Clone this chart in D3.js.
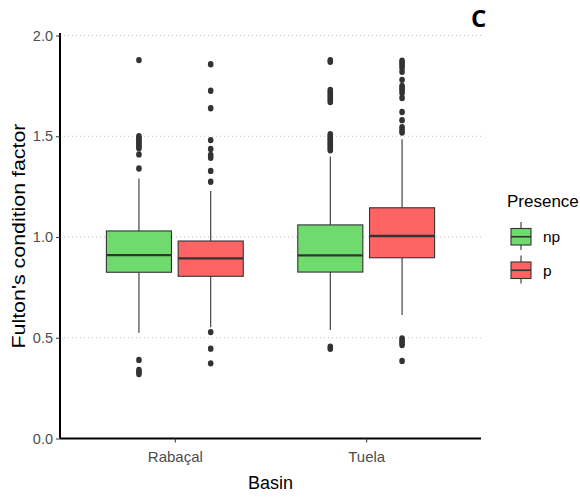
<!DOCTYPE html>
<html>
<head>
<meta charset="utf-8">
<script src="https://cdn.jsdelivr.net/npm/d3@7"></script>
<style>
  body { margin: 0; background: #fff; }
  text { font-family: "Liberation Sans", Arial, sans-serif; }
</style>
</head>
<body>
<div id="chart"></div>
<script>
// data
const basins = ["Rabaçal", "Tuela"]
const presence = ["np", "p"]
const groups = [["Rabaçal", "np"], ["Rabaçal", "p"], ["Tuela", "np"], ["Tuela", "p"]]
const q1 = [0.825, 0.805, 0.826, 0.897]
const median = [0.91, 0.894, 0.909, 1.005]
const q3 = [1.03, 0.98, 1.06, 1.145]
const whiskerLow = [0.525, 0.552, 0.538, 0.613]
const whiskerHigh = [1.29, 1.228, 1.40, 1.485]
const outliers = [
  [1.878, 1.50, 1.49, 1.48, 1.47, 1.46, 1.45, 1.44, 1.41, 1.34, 0.39, 0.34, 0.33, 0.32],
  [1.857, 1.726, 1.639, 1.481, 1.437, 1.407, 1.393, 1.328, 1.274, 0.528, 0.446, 0.373],
  [1.878, 1.87, 1.73, 1.72, 1.71, 1.70, 1.69, 1.68, 1.67, 1.51, 1.50, 1.49, 1.48, 1.47, 1.46, 1.45, 1.44, 1.43, 0.455, 0.445],
  [1.875, 1.865, 1.853, 1.84, 1.82, 1.78, 1.75, 1.74, 1.73, 1.715, 1.69, 1.62, 1.58, 1.545, 1.53, 1.518, 0.497, 0.485, 0.475, 0.464, 0.385]
]
const yTicks = [0, 0.5, 1, 1.5, 2]

const colors = { np: "#6fdb6f", p: "#ff6464" }

const width = 580, height = 498
const panel = { left: 60, right: 481, top: 33, bottom: 438.5 }

const svg = d3.select("#chart").append("svg")
    .attr("width", width)
    .attr("height", height)

const x = d3.scalePoint().domain(basins).range([panel.left, panel.right]).padding(0.6)
const step = x.step()
const dodge = d3.scalePoint().domain(presence).range([-step * 0.1875, step * 0.1875])
const boxW = step * 0.34
const y = d3.scaleLinear().domain([0, 2]).range([438.5, 35.5])

// grid
svg.append("g").selectAll("line").data(yTicks.filter(d => d > 0)).join("line")
    .attr("x1", panel.left).attr("x2", panel.right)
    .attr("y1", d => y(d)).attr("y2", d => y(d))
    .attr("stroke", "#bdbdbd").attr("stroke-width", 1)
    .attr("stroke-dasharray", "1,3")

// boxes
const g = svg.append("g")
groups.forEach(function (grp, i) {
  const cx = x(grp[0]) + dodge(grp[1])
  g.append("line")
      .attr("x1", cx).attr("x2", cx)
      .attr("y1", y(q3[i])).attr("y2", y(whiskerHigh[i]))
      .attr("stroke", "#333").attr("stroke-width", 1.1)
  g.append("line")
      .attr("x1", cx).attr("x2", cx)
      .attr("y1", y(q1[i])).attr("y2", y(whiskerLow[i]))
      .attr("stroke", "#333").attr("stroke-width", 1.1)
  g.append("rect")
      .attr("x", cx - boxW / 2).attr("width", boxW)
      .attr("y", y(q3[i])).attr("height", y(q1[i]) - y(q3[i]))
      .attr("fill", colors[grp[1]]).attr("stroke", "#333").attr("stroke-width", 1.1)
  g.append("line")
      .attr("x1", cx - boxW / 2).attr("x2", cx + boxW / 2)
      .attr("y1", y(median[i])).attr("y2", y(median[i]))
      .attr("stroke", "#333").attr("stroke-width", 2.4)
  g.append("g").selectAll("ellipse").data(outliers[i]).join("ellipse")
      .attr("cx", cx).attr("cy", d => y(d))
      .attr("rx", 2.8).attr("ry", 3.2)
      .attr("fill", "#333")
})

// axes
const yAxis = svg.append("g")
    .attr("transform", `translate(${panel.left},0)`)
    .call(d3.axisLeft(y).tickValues(yTicks).tickFormat(d3.format(".1f")).tickSize(4).tickPadding(3))
yAxis.select(".domain").attr("d", `M0,${panel.top}V${panel.bottom}`).attr("stroke", "#000").attr("stroke-width", 2)
yAxis.selectAll(".tick line").attr("stroke", "#333")
yAxis.selectAll(".tick text").attr("fill", "#4d4d4d").style("font-size", "14.5px")

const xAxis = svg.append("g")
    .attr("transform", `translate(0,${panel.bottom})`)
    .call(d3.axisBottom(x).tickSize(4).tickPadding(9))
xAxis.select(".domain").attr("d", `M${panel.left},0H${panel.right}`).attr("stroke", "#000").attr("stroke-width", 2)
xAxis.selectAll(".tick line").attr("stroke", "#333")
xAxis.selectAll(".tick text").attr("fill", "#4d4d4d").style("font-size", "15px")

// axis titles
svg.append("text")
    .attr("x", (panel.left + panel.right) / 2).attr("y", 489)
    .attr("text-anchor", "middle")
    .style("font-size", "18px")
    .text("Basin")

svg.append("text")
    .attr("transform", "translate(25,236) rotate(-90)")
    .attr("text-anchor", "middle")
    .attr("textLength", 225).attr("lengthAdjust", "spacingAndGlyphs")
    .style("font-size", "18px")
    .text("Fulton's condition factor")

// panel tag
svg.append("text")
    .attr("x", 471).attr("y", 27)
    .style("font-size", "24px").style("font-weight", "bold")
    .style("font-family", "'Open Sans', sans-serif")
    .text("C")

// legend
const leg = svg.append("g")
leg.append("text").attr("x", 507).attr("y", 207)
    .style("font-size", "17px")
    .text("Presence")
presence.forEach(function (p, i) {
  const top = 228.5 + i * 33.5
  const kx = 511, kw = 20, kh = 16.5
  leg.append("line")
      .attr("x1", kx + kw / 2).attr("x2", kx + kw / 2)
      .attr("y1", top - 6.5).attr("y2", top + kh + 5)
      .attr("stroke", "#333").attr("stroke-width", 1.1)
  leg.append("rect")
      .attr("x", kx).attr("y", top).attr("width", kw).attr("height", kh)
      .attr("fill", colors[p]).attr("stroke", "#333").attr("stroke-width", 1.1)
  leg.append("line")
      .attr("x1", kx).attr("x2", kx + kw)
      .attr("y1", top + kh / 2).attr("y2", top + kh / 2)
      .attr("stroke", "#333").attr("stroke-width", 1.6)
  leg.append("text")
      .attr("x", 543).attr("y", top + kh / 2 + 5.5)
      .style("font-size", "15.5px")
      .text(p)
})
</script>
</body>
</html>
